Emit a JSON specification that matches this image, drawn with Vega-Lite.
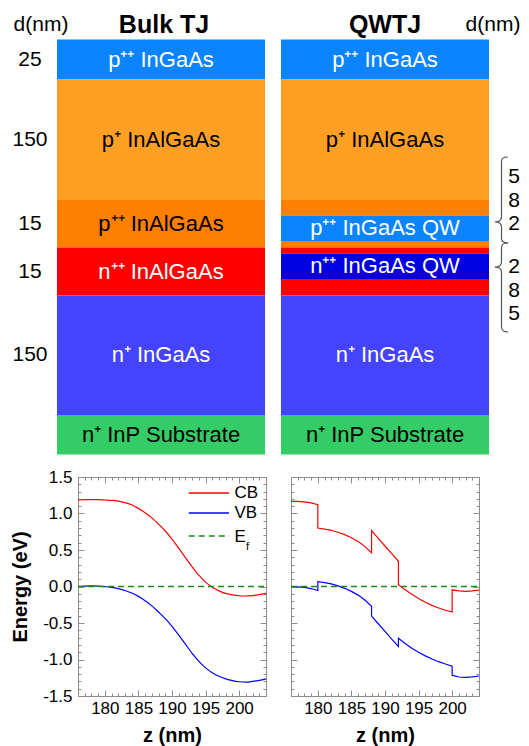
{
  "$schema": "https://vega.github.io/schema/vega-lite/v6.json",
  "background": "white",
  "padding": {"left": 10, "top": 0, "right": 0, "bottom": 0},
  "spacing": 17,
  "bounds": "flush",
  "config": {
    "font": "Liberation Sans",
    "view": {"stroke": null},
    "axis": {"labelFont": "Liberation Sans", "titleFont": "Liberation Sans", "labelFontSize": 17, "titleFontSize": 20, "titleFontWeight": "bold", "labelColor": "#000000", "titleColor": "#000000", "domainColor": "#8c8c8c", "tickColor": "#8c8c8c", "domainWidth": 1, "tickWidth": 1, "grid": false},
    "text": {"font": "Liberation Sans"}
  },
  "datasets": {
    "stack": [
      {"structure": "Bulk TJ", "kind": "p++ InGaAs", "label": "p⁺⁺ InGaAs", "d": "25", "y0": 39.5, "y1": 79.5},
      {"structure": "Bulk TJ", "kind": "p+ InAlGaAs", "label": "p⁺ InAlGaAs", "d": "150", "y0": 79.5, "y1": 200},
      {"structure": "Bulk TJ", "kind": "p++ InAlGaAs", "label": "p⁺⁺ InAlGaAs", "d": "15", "y0": 200, "y1": 247.5},
      {"structure": "Bulk TJ", "kind": "n++ InAlGaAs", "label": "n⁺⁺ InAlGaAs", "d": "15", "y0": 247.5, "y1": 295.5},
      {"structure": "Bulk TJ", "kind": "n+ InGaAs", "label": "n⁺ InGaAs", "d": "150", "y0": 295.5, "y1": 415},
      {"structure": "Bulk TJ", "kind": "n+ InP", "label": "n⁺ InP Substrate", "d": "", "y0": 415, "y1": 454.5},
      {"structure": "QWTJ", "kind": "p++ InGaAs", "label": "p⁺⁺ InGaAs", "d": "25", "y0": 39.5, "y1": 79.5},
      {"structure": "QWTJ", "kind": "p+ InAlGaAs", "label": "p⁺ InAlGaAs", "d": "150", "y0": 79.5, "y1": 200},
      {"structure": "QWTJ", "kind": "p++ InAlGaAs", "label": "", "d": "5", "y0": 200, "y1": 215.5},
      {"structure": "QWTJ", "kind": "p++ InGaAs QW", "label": "p⁺⁺ InGaAs QW", "d": "8", "y0": 215.5, "y1": 241},
      {"structure": "QWTJ", "kind": "p++ InAlGaAs", "label": "", "d": "2", "y0": 241, "y1": 247.5},
      {"structure": "QWTJ", "kind": "n++ InAlGaAs", "label": "", "d": "2", "y0": 247.5, "y1": 253.5},
      {"structure": "QWTJ", "kind": "n++ InGaAs QW", "label": "n⁺⁺ InGaAs QW", "d": "8", "y0": 253.5, "y1": 279},
      {"structure": "QWTJ", "kind": "n++ InAlGaAs", "label": "", "d": "5", "y0": 279, "y1": 295.5},
      {"structure": "QWTJ", "kind": "n+ InGaAs", "label": "n⁺ InGaAs", "d": "150", "y0": 295.5, "y1": 415},
      {"structure": "QWTJ", "kind": "n+ InP", "label": "n⁺ InP Substrate", "d": "", "y0": 415, "y1": 454.5}
    ],
    "bulk": [
      {"z": 176, "E": 1.185, "band": "CB"}, {"z": 177, "E": 1.19, "band": "CB"}, {"z": 178, "E": 1.19, "band": "CB"}, {"z": 179, "E": 1.19, "band": "CB"},
      {"z": 180, "E": 1.185, "band": "CB"}, {"z": 181, "E": 1.18, "band": "CB"}, {"z": 182, "E": 1.17, "band": "CB"}, {"z": 183, "E": 1.15, "band": "CB"},
      {"z": 184, "E": 1.12, "band": "CB"}, {"z": 185, "E": 1.07, "band": "CB"}, {"z": 186, "E": 1.01, "band": "CB"}, {"z": 187, "E": 0.94, "band": "CB"},
      {"z": 188, "E": 0.855, "band": "CB"}, {"z": 189, "E": 0.76, "band": "CB"}, {"z": 190, "E": 0.65, "band": "CB"}, {"z": 191, "E": 0.525, "band": "CB"},
      {"z": 192, "E": 0.395, "band": "CB"}, {"z": 193, "E": 0.27, "band": "CB"}, {"z": 194, "E": 0.155, "band": "CB"}, {"z": 195, "E": 0.06, "band": "CB"},
      {"z": 196, "E": -0.01, "band": "CB"}, {"z": 197, "E": -0.06, "band": "CB"}, {"z": 198, "E": -0.095, "band": "CB"}, {"z": 199, "E": -0.115, "band": "CB"},
      {"z": 200, "E": -0.127, "band": "CB"}, {"z": 201, "E": -0.13, "band": "CB"}, {"z": 202, "E": -0.125, "band": "CB"}, {"z": 203, "E": -0.112, "band": "CB"},
      {"z": 204, "E": -0.095, "band": "CB"},
      {"z": 176, "E": 0.0, "band": "VB"}, {"z": 177, "E": 0.005, "band": "VB"}, {"z": 178, "E": 0.008, "band": "VB"}, {"z": 179, "E": 0.005, "band": "VB"},
      {"z": 180, "E": -0.002, "band": "VB"}, {"z": 181, "E": -0.012, "band": "VB"}, {"z": 182, "E": -0.03, "band": "VB"}, {"z": 183, "E": -0.055, "band": "VB"},
      {"z": 184, "E": -0.09, "band": "VB"}, {"z": 185, "E": -0.135, "band": "VB"}, {"z": 186, "E": -0.195, "band": "VB"}, {"z": 187, "E": -0.265, "band": "VB"},
      {"z": 188, "E": -0.35, "band": "VB"}, {"z": 189, "E": -0.44, "band": "VB"}, {"z": 190, "E": -0.545, "band": "VB"}, {"z": 191, "E": -0.665, "band": "VB"},
      {"z": 192, "E": -0.79, "band": "VB"}, {"z": 193, "E": -0.915, "band": "VB"}, {"z": 194, "E": -1.025, "band": "VB"}, {"z": 195, "E": -1.115, "band": "VB"},
      {"z": 196, "E": -1.18, "band": "VB"}, {"z": 197, "E": -1.23, "band": "VB"}, {"z": 198, "E": -1.265, "band": "VB"}, {"z": 199, "E": -1.29, "band": "VB"},
      {"z": 200, "E": -1.305, "band": "VB"}, {"z": 201, "E": -1.31, "band": "VB"}, {"z": 202, "E": -1.3, "band": "VB"}, {"z": 203, "E": -1.285, "band": "VB"},
      {"z": 204, "E": -1.265, "band": "VB"}
    ],
    "qw": [
      {"i": 0, "z": 176, "E": 1.167, "band": "CB"}, {"i": 1, "z": 177, "E": 1.165, "band": "CB"}, {"i": 2, "z": 178, "E": 1.16, "band": "CB"},
      {"i": 3, "z": 179, "E": 1.145, "band": "CB"}, {"i": 4, "z": 180, "E": 1.12, "band": "CB"}, {"i": 5, "z": 180, "E": 0.8, "band": "CB"},
      {"i": 6, "z": 181, "E": 0.787, "band": "CB"}, {"i": 7, "z": 182, "E": 0.77, "band": "CB"}, {"i": 8, "z": 183, "E": 0.743, "band": "CB"},
      {"i": 9, "z": 184, "E": 0.71, "band": "CB"}, {"i": 10, "z": 185, "E": 0.668, "band": "CB"}, {"i": 11, "z": 186, "E": 0.617, "band": "CB"},
      {"i": 12, "z": 187, "E": 0.55, "band": "CB"}, {"i": 13, "z": 188, "E": 0.46, "band": "CB"}, {"i": 14, "z": 188, "E": 0.765, "band": "CB"},
      {"i": 15, "z": 189, "E": 0.66, "band": "CB"}, {"i": 16, "z": 190, "E": 0.555, "band": "CB"}, {"i": 17, "z": 191, "E": 0.45, "band": "CB"},
      {"i": 18, "z": 192, "E": 0.345, "band": "CB"}, {"i": 19, "z": 192, "E": 0.025, "band": "CB"}, {"i": 20, "z": 193, "E": -0.045, "band": "CB"},
      {"i": 21, "z": 194, "E": -0.105, "band": "CB"}, {"i": 22, "z": 195, "E": -0.165, "band": "CB"}, {"i": 23, "z": 196, "E": -0.215, "band": "CB"},
      {"i": 24, "z": 197, "E": -0.258, "band": "CB"}, {"i": 25, "z": 198, "E": -0.295, "band": "CB"}, {"i": 26, "z": 199, "E": -0.325, "band": "CB"},
      {"i": 27, "z": 200, "E": -0.35, "band": "CB"}, {"i": 28, "z": 200, "E": -0.045, "band": "CB"}, {"i": 29, "z": 201, "E": -0.06, "band": "CB"},
      {"i": 30, "z": 202, "E": -0.066, "band": "CB"}, {"i": 31, "z": 203, "E": -0.06, "band": "CB"}, {"i": 32, "z": 204, "E": -0.05, "band": "CB"},
      {"i": 0, "z": 176, "E": 0.0, "band": "VB"}, {"i": 1, "z": 177, "E": -0.004, "band": "VB"}, {"i": 2, "z": 178, "E": -0.012, "band": "VB"},
      {"i": 3, "z": 179, "E": -0.028, "band": "VB"}, {"i": 4, "z": 180, "E": -0.055, "band": "VB"}, {"i": 5, "z": 180, "E": 0.065, "band": "VB"},
      {"i": 6, "z": 181, "E": 0.052, "band": "VB"}, {"i": 7, "z": 182, "E": 0.035, "band": "VB"}, {"i": 8, "z": 183, "E": 0.008, "band": "VB"},
      {"i": 9, "z": 184, "E": -0.025, "band": "VB"}, {"i": 10, "z": 185, "E": -0.067, "band": "VB"}, {"i": 11, "z": 186, "E": -0.118, "band": "VB"},
      {"i": 12, "z": 187, "E": -0.185, "band": "VB"}, {"i": 13, "z": 188, "E": -0.272, "band": "VB"}, {"i": 14, "z": 188, "E": -0.405, "band": "VB"},
      {"i": 15, "z": 189, "E": -0.51, "band": "VB"}, {"i": 16, "z": 190, "E": -0.615, "band": "VB"}, {"i": 17, "z": 191, "E": -0.72, "band": "VB"},
      {"i": 18, "z": 192, "E": -0.82, "band": "VB"}, {"i": 19, "z": 192, "E": -0.708, "band": "VB"}, {"i": 20, "z": 193, "E": -0.78, "band": "VB"},
      {"i": 21, "z": 194, "E": -0.845, "band": "VB"}, {"i": 22, "z": 195, "E": -0.9, "band": "VB"}, {"i": 23, "z": 196, "E": -0.95, "band": "VB"},
      {"i": 24, "z": 197, "E": -0.993, "band": "VB"}, {"i": 25, "z": 198, "E": -1.03, "band": "VB"}, {"i": 26, "z": 199, "E": -1.062, "band": "VB"},
      {"i": 27, "z": 200, "E": -1.09, "band": "VB"}, {"i": 28, "z": 200, "E": -1.215, "band": "VB"}, {"i": 29, "z": 201, "E": -1.24, "band": "VB"},
      {"i": 30, "z": 202, "E": -1.245, "band": "VB"}, {"i": 31, "z": 203, "E": -1.238, "band": "VB"}, {"i": 32, "z": 204, "E": -1.226, "band": "VB"}
    ],
    "fermi": [{"z": 176, "E": 0}, {"z": 204, "E": 0}],
    "one": [{}]
  },
  "vconcat": [
    {
      "width": 451,
      "height": 460,
      "layer": [
        {
          "data": {"name": "stack"},
          "transform": [{"filter": "datum.structure == 'Bulk TJ'"}],
          "mark": {"type": "rect"},
          "encoding": {
            "x": {"datum": 57, "type": "quantitative", "scale": {"domain": [78, 529], "nice": false, "zero": false}, "axis": null},
            "x2": {"datum": 265},
            "y": {"field": "y0", "type": "quantitative", "scale": {"domain": [0, 460], "nice": false, "zero": false, "reverse": true}, "axis": null},
            "y2": {"field": "y1"},
            "fill": {"field": "kind", "type": "nominal", "legend": null,
              "scale": {"domain": ["p++ InGaAs", "p+ InAlGaAs", "p++ InAlGaAs", "n++ InAlGaAs", "n+ InGaAs", "n+ InP", "p++ InGaAs QW", "n++ InGaAs QW"],
                        "range": ["#0A84FF", "#FFA024", "#FF8000", "#FF0000", "#4444FF", "#33CC66", "#0A84FF", "#0000E0"]}}
          }
        },
        {
          "data": {"name": "stack"},
          "transform": [{"filter": "datum.structure == 'QWTJ'"}],
          "mark": {"type": "rect"},
          "encoding": {
            "x": {"datum": 281, "type": "quantitative", "axis": null},
            "x2": {"datum": 489},
            "y": {"field": "y0", "type": "quantitative", "axis": null},
            "y2": {"field": "y1"},
            "fill": {"field": "kind", "type": "nominal", "legend": null}
          }
        },
        {
          "data": {"name": "stack"},
          "transform": [
            {"filter": "datum.structure == 'Bulk TJ' && datum.label != ''"},
            {"fold": ["y0", "y1"], "as": ["edge", "pos"]},
            {"aggregate": [{"op": "mean", "field": "pos", "as": "mid"}], "groupby": ["structure", "kind", "label", "d"]}
          ],
          "mark": {"type": "text", "fontSize": 22, "align": "center", "baseline": "middle"},
          "encoding": {
            "x": {"datum": 161, "type": "quantitative", "axis": null},
            "y": {"field": "mid", "type": "quantitative", "axis": null},
            "text": {"field": "label"},
            "color": {"field": "kind", "type": "nominal", "legend": null,
              "scale": {"domain": ["p++ InGaAs", "p+ InAlGaAs", "p++ InAlGaAs", "n++ InAlGaAs", "n+ InGaAs", "n+ InP", "p++ InGaAs QW", "n++ InGaAs QW"],
                        "range": ["#FFFFFF", "#000000", "#000000", "#FFFFFF", "#FFFFFF", "#000000", "#FFFFFF", "#FFFFFF"]}}
          }
        },
        {
          "data": {"name": "stack"},
          "transform": [
            {"filter": "datum.structure == 'QWTJ' && datum.label != ''"},
            {"fold": ["y0", "y1"], "as": ["edge", "pos"]},
            {"aggregate": [{"op": "mean", "field": "pos", "as": "mid"}], "groupby": ["structure", "kind", "label", "d"]}
          ],
          "mark": {"type": "text", "fontSize": 22, "align": "center", "baseline": "middle"},
          "encoding": {
            "x": {"datum": 385, "type": "quantitative", "axis": null},
            "y": {"field": "mid", "type": "quantitative", "axis": null},
            "text": {"field": "label"},
            "color": {"field": "kind", "type": "nominal", "legend": null}
          }
        },
        {
          "data": {"name": "stack"},
          "transform": [
            {"filter": "datum.structure == 'Bulk TJ' && datum.d != ''"},
            {"fold": ["y0", "y1"], "as": ["edge", "pos"]},
            {"aggregate": [{"op": "mean", "field": "pos", "as": "mid"}], "groupby": ["structure", "kind", "label", "d"]}
          ],
          "mark": {"type": "text", "fontSize": 21, "align": "center", "baseline": "middle", "color": "#000000"},
          "encoding": {
            "x": {"datum": 30, "type": "quantitative", "axis": null},
            "y": {"field": "mid", "type": "quantitative", "axis": null},
            "text": {"field": "d"}
          }
        },
        {
          "data": {"name": "one"},
          "mark": {"type": "text", "text": "Bulk TJ", "fontSize": 25, "fontWeight": "bold", "align": "center", "baseline": "middle", "color": "#000000"},
          "encoding": {"x": {"datum": 164, "type": "quantitative", "axis": null}, "y": {"datum": 25, "type": "quantitative", "axis": null}}
        },
        {
          "data": {"name": "one"},
          "mark": {"type": "text", "text": "QWTJ", "fontSize": 25, "fontWeight": "bold", "align": "center", "baseline": "middle", "color": "#000000"},
          "encoding": {"x": {"datum": 385, "type": "quantitative", "axis": null}, "y": {"datum": 25, "type": "quantitative", "axis": null}}
        },
        {
          "data": {"name": "one"},
          "mark": {"type": "text", "text": "d(nm)", "fontSize": 21, "align": "center", "baseline": "middle", "color": "#000000"},
          "encoding": {"x": {"datum": 41, "type": "quantitative", "axis": null}, "y": {"datum": 25, "type": "quantitative", "axis": null}}
        },
        {
          "data": {"name": "one"},
          "mark": {"type": "text", "text": "d(nm)", "fontSize": 21, "align": "center", "baseline": "middle", "color": "#000000"},
          "encoding": {"x": {"datum": 493, "type": "quantitative", "axis": null}, "y": {"datum": 25, "type": "quantitative", "axis": null}}
        },
        {
          "data": {"name": "one"},
          "mark": {"type": "point", "shape": "M0.15,-1 C0.04,-1 0,-0.97 0,-0.88 L0,0.39 C0,0.47 -0.05,0.51 -0.15,0.51 C-0.05,0.51 0,0.55 0,0.63 L0,0.89 C0,0.97 0.04,1 0.15,1", "size": 7396, "filled": false, "color": "#555555", "strokeWidth": 1.2, "opacity": 1},
          "encoding": {"x": {"datum": 501.5, "type": "quantitative", "axis": null}, "y": {"datum": 200, "type": "quantitative", "axis": null}}
        },
        {
          "data": {"name": "one"},
          "mark": {"type": "point", "shape": "M0.15,-1 C0.04,-1 0,-0.97 0,-0.89 L0,-0.58 C0,-0.5 -0.05,-0.46 -0.15,-0.46 C-0.05,-0.46 0,-0.42 0,-0.34 L0,0.88 C0,0.97 0.04,1 0.15,1", "size": 7921, "filled": false, "color": "#555555", "strokeWidth": 1.2, "opacity": 1},
          "encoding": {"x": {"datum": 501.5, "type": "quantitative", "axis": null}, "y": {"datum": 287.5, "type": "quantitative", "axis": null}}
        },
        {
          "data": {"name": "one"},
          "mark": {"type": "text", "text": ["5", "8", "2"], "lineHeight": 23.5, "fontSize": 21, "align": "center", "baseline": "middle", "color": "#000000"},
          "encoding": {"x": {"datum": 514, "type": "quantitative", "axis": null}, "y": {"datum": 177, "type": "quantitative", "axis": null}}
        },
        {
          "data": {"name": "one"},
          "mark": {"type": "text", "text": ["2", "8", "5"], "lineHeight": 23.5, "fontSize": 21, "align": "center", "baseline": "middle", "color": "#000000"},
          "encoding": {"x": {"datum": 514, "type": "quantitative", "axis": null}, "y": {"datum": 267, "type": "quantitative", "axis": null}}
        }
      ]
    },
    {
      "spacing": 25,
      "bounds": "flush",
      "hconcat": [
        {
          "width": 188,
          "height": 219,
          "layer": [
            {
              "data": {"name": "bulk"},
              "mark": {"type": "line", "interpolate": "monotone", "strokeWidth": 1.2},
              "encoding": {
                "x": {"field": "z", "type": "quantitative", "scale": {"domain": [176, 204], "nice": false, "zero": false},
                  "axis": {"orient": "bottom", "values": [176,177,178,179,180,181,182,183,184,185,186,187,188,189,190,191,192,193,194,195,196,197,198,199,200,201,202,203,204],
                    "labelExpr": "datum.value % 5 == 0 && datum.value >= 180 && datum.value <= 200 ? datum.label : ''",
                    "tickSize": {"condition": {"test": "datum.value % 5 == 0", "value": -6}, "value": -3},
                    "labelPadding": 10.5, "labelFlush": false, "labelOverlap": false, "title": "z (nm)", "titlePadding": 6}},
                "y": {"field": "E", "type": "quantitative", "scale": {"domain": [-1.5, 1.5], "nice": false, "zero": false},
                  "axis": {"orient": "left", "values": [-1.5,-1.4,-1.3,-1.2,-1.1,-1.0,-0.9,-0.8,-0.7,-0.6,-0.5,-0.4,-0.3,-0.2,-0.1,0,0.1,0.2,0.3,0.4,0.5,0.6,0.7,0.8,0.9,1.0,1.1,1.2,1.3,1.4,1.5],
                    "labelExpr": "abs(round(datum.value*10)) % 5 == 0 ? (datum.value < 0 ? '-' : '') + format(abs(datum.value), '.1f') : ''",
                    "tickSize": {"condition": {"test": "abs(round(datum.value*10)) % 5 == 0", "value": -6}, "value": -3},
                    "labelPadding": 12, "labelFlush": false, "labelOverlap": false, "title": "Energy (eV)", "titlePadding": 12}},
                "stroke": {"field": "band", "type": "nominal", "scale": {"domain": ["CB", "VB"], "range": ["#FF0000", "#0000FF"]}, "legend": null}
              }
            },
            {
              "data": {"name": "fermi"},
              "mark": {"type": "line", "strokeDash": [6, 4], "color": "#1A8A1A", "strokeWidth": 1.4},
              "encoding": {
                "x": {"field": "z", "type": "quantitative", "scale": {"domain": [176, 204], "nice": false, "zero": false},
                  "axis": {"orient": "top", "values": [176,177,178,179,180,181,182,183,184,185,186,187,188,189,190,191,192,193,194,195,196,197,198,199,200,201,202,203,204],
                    "labels": false, "title": null,
                    "tickSize": {"condition": {"test": "datum.value % 5 == 0", "value": -6}, "value": -3}}},
                "y": {"field": "E", "type": "quantitative", "scale": {"domain": [-1.5, 1.5], "nice": false, "zero": false},
                  "axis": {"orient": "right", "values": [-1.5,-1.4,-1.3,-1.2,-1.1,-1.0,-0.9,-0.8,-0.7,-0.6,-0.5,-0.4,-0.3,-0.2,-0.1,0,0.1,0.2,0.3,0.4,0.5,0.6,0.7,0.8,0.9,1.0,1.1,1.2,1.3,1.4,1.5],
                    "labels": false, "title": null,
                    "tickSize": {"condition": {"test": "abs(round(datum.value*10)) % 5 == 0", "value": -6}, "value": -3}}}
              }
            },
            {
              "data": {"name": "one"},
              "mark": {"type": "rule", "color": "#FF0000", "strokeWidth": 1.3},
              "encoding": {"x": {"datum": 192.5, "type": "quantitative", "axis": null}, "x2": {"datum": 198.5}, "y": {"datum": 1.281, "type": "quantitative", "axis": null}}
            },
            {
              "data": {"name": "one"},
              "mark": {"type": "rule", "color": "#0000FF", "strokeWidth": 1.3},
              "encoding": {"x": {"datum": 192.5, "type": "quantitative", "axis": null}, "x2": {"datum": 198.5}, "y": {"datum": 1.007, "type": "quantitative", "axis": null}}
            },
            {
              "data": {"name": "one"},
              "mark": {"type": "rule", "color": "#1A8A1A", "strokeWidth": 1.4, "strokeDash": [6, 4]},
              "encoding": {"x": {"datum": 192.5, "type": "quantitative", "axis": null}, "x2": {"datum": 198.5}, "y": {"datum": 0.692, "type": "quantitative", "axis": null}}
            },
            {
              "data": {"name": "one"},
              "mark": {"type": "text", "text": "CB", "fontSize": 17, "align": "left", "baseline": "middle", "color": "#000000"},
              "encoding": {"x": {"datum": 199.3, "type": "quantitative", "axis": null}, "y": {"datum": 1.281, "type": "quantitative", "axis": null}}
            },
            {
              "data": {"name": "one"},
              "mark": {"type": "text", "text": "VB", "fontSize": 17, "align": "left", "baseline": "middle", "color": "#000000"},
              "encoding": {"x": {"datum": 199.3, "type": "quantitative", "axis": null}, "y": {"datum": 1.007, "type": "quantitative", "axis": null}}
            },
            {
              "data": {"name": "one"},
              "mark": {"type": "text", "text": "E", "fontSize": 17, "align": "left", "baseline": "middle", "color": "#000000"},
              "encoding": {"x": {"datum": 199.3, "type": "quantitative", "axis": null}, "y": {"datum": 0.68, "type": "quantitative", "axis": null}}
            },
            {
              "data": {"name": "one"},
              "mark": {"type": "text", "text": "f", "fontSize": 11, "align": "left", "baseline": "middle", "color": "#000000", "dx": 11.5, "dy": 10},
              "encoding": {"x": {"datum": 199.3, "type": "quantitative", "axis": null}, "y": {"datum": 0.68, "type": "quantitative", "axis": null}}
            }
          ],
          "resolve": {"axis": {"x": "independent", "y": "independent"}}
        },
        {
          "width": 188,
          "height": 219,
          "layer": [
            {
              "data": {"name": "qw"},
              "mark": {"type": "line", "interpolate": "linear", "strokeWidth": 1.2},
              "encoding": {
                "x": {"field": "z", "type": "quantitative", "scale": {"domain": [176, 204], "nice": false, "zero": false},
                  "axis": {"orient": "bottom", "values": [176,177,178,179,180,181,182,183,184,185,186,187,188,189,190,191,192,193,194,195,196,197,198,199,200,201,202,203,204],
                    "labelExpr": "datum.value % 5 == 0 && datum.value >= 180 && datum.value <= 200 ? datum.label : ''",
                    "tickSize": {"condition": {"test": "datum.value % 5 == 0", "value": -6}, "value": -3},
                    "labelPadding": 10.5, "labelFlush": false, "labelOverlap": false, "title": "z (nm)", "titlePadding": 6}},
                "y": {"field": "E", "type": "quantitative", "scale": {"domain": [-1.5, 1.5], "nice": false, "zero": false},
                  "axis": {"orient": "left", "values": [-1.5,-1.4,-1.3,-1.2,-1.1,-1.0,-0.9,-0.8,-0.7,-0.6,-0.5,-0.4,-0.3,-0.2,-0.1,0,0.1,0.2,0.3,0.4,0.5,0.6,0.7,0.8,0.9,1.0,1.1,1.2,1.3,1.4,1.5],
                    "labels": false, "title": null,
                    "tickSize": {"condition": {"test": "abs(round(datum.value*10)) % 5 == 0", "value": -6}, "value": -3}}},
                "stroke": {"field": "band", "type": "nominal", "scale": {"domain": ["CB", "VB"], "range": ["#FF0000", "#0000FF"]}, "legend": null},
                "order": {"field": "i", "type": "quantitative"}
              }
            },
            {
              "data": {"name": "fermi"},
              "mark": {"type": "line", "strokeDash": [6, 4], "color": "#1A8A1A", "strokeWidth": 1.4},
              "encoding": {
                "x": {"field": "z", "type": "quantitative", "scale": {"domain": [176, 204], "nice": false, "zero": false},
                  "axis": {"orient": "top", "values": [176,177,178,179,180,181,182,183,184,185,186,187,188,189,190,191,192,193,194,195,196,197,198,199,200,201,202,203,204],
                    "labels": false, "title": null,
                    "tickSize": {"condition": {"test": "datum.value % 5 == 0", "value": -6}, "value": -3}}},
                "y": {"field": "E", "type": "quantitative", "scale": {"domain": [-1.5, 1.5], "nice": false, "zero": false},
                  "axis": {"orient": "right", "values": [-1.5,-1.4,-1.3,-1.2,-1.1,-1.0,-0.9,-0.8,-0.7,-0.6,-0.5,-0.4,-0.3,-0.2,-0.1,0,0.1,0.2,0.3,0.4,0.5,0.6,0.7,0.8,0.9,1.0,1.1,1.2,1.3,1.4,1.5],
                    "labels": false, "title": null,
                    "tickSize": {"condition": {"test": "abs(round(datum.value*10)) % 5 == 0", "value": -6}, "value": -3}}}
              }
            }
          ],
          "resolve": {"axis": {"x": "independent", "y": "independent"}}
        }
      ]
    }
  ]
}
